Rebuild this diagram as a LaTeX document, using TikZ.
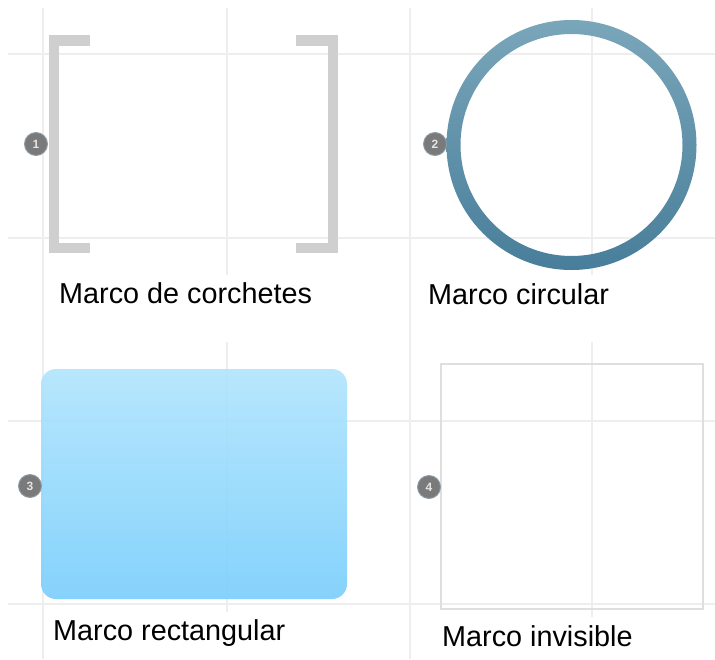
\documentclass[tikz,border=0pt]{standalone}
\usepackage{fontspec}
\setmainfont{Liberation Sans}
\definecolor{gridgray}{HTML}{EEEEEE}
\definecolor{bracketgray}{HTML}{CFCFCF}
\definecolor{ringtop}{HTML}{7AA6BA}
\definecolor{ringbottom}{HTML}{487E9A}
\definecolor{boxtop}{HTML}{B2E5FD}
\definecolor{boxbottom}{HTML}{7CCFFC}
\definecolor{badgefill}{HTML}{7A7A7A}
\definecolor{badgeedge}{HTML}{8C9CA8}
\begin{document}
\begin{tikzpicture}[
    x=1pt, y=-1pt,
    gridline/.style={draw=gridgray, line width=1.4pt},
    bracket/.style={draw=bracketgray, line width=10.5pt, line join=miter},
    ghost/.style={draw=gray!25, line width=2pt},
    badge/.style={circle, fill=badgefill, draw=badgeedge, line width=0.9pt, minimum size=23pt, inner sep=0pt, text=gray!20, font=\fontsize{12}{12}\selectfont\bfseries},
    caption/.style={anchor=base west, inner sep=0pt, font=\fontsize{28.8}{34}\selectfont}
]
\useasboundingbox (0,0) rectangle (715,659);

% Guide grid (bottom layer)
\foreach \gx in {43, 410}
    \draw[gridline] (\gx,8) -- (\gx,659);
\foreach \gy in {54, 238, 421, 604}
    \draw[gridline] (8,\gy) -- (715,\gy);
\foreach \gx in {227, 592}
    \draw[gridline] (\gx,8) -- (\gx,275);
\draw[gridline] (227,342) -- (227,612);
\draw[gridline] (592,342) -- (592,617);

% Frame 1: brackets
\draw[bracket] (90,40.5) -- (54,40.5) -- (54,248) -- (90,248);
\draw[bracket] (296,40.5) -- (333,40.5) -- (333,248) -- (296,248);

% Frame 2: ring with vertical gradient
\shade[top color=ringtop, bottom color=ringbottom, even odd rule]
    (571.5,145) circle[radius=125pt] (571.5,145) circle[radius=111pt];

% Frame 3: rounded box, lets the grid show through a little
\shade[top color=boxtop, bottom color=boxbottom, rounded corners=15pt, opacity=0.93]
    (41,369) rectangle (347,599);

% Frame 4: faint outline only
\draw[ghost] (441,364) rectangle (703,609);

% Numbered badges on top
\node[badge] (b1) at (36,144) {1};
\node[badge] (b2) at (435,144) {2};
\node[badge] (b3) at (30,486) {3};
\node[badge] (b4) at (429,487) {4};

% Captions
\node[caption] (c1) at (59,303) {Marco de corchetes};
\node[caption] (c2) at (428,304) {Marco circular};
\node[caption] (c3) at (53,640) {Marco rectangular};
\node[caption] (c4) at (442,646) {Marco invisible};

\end{tikzpicture}
\end{document}
